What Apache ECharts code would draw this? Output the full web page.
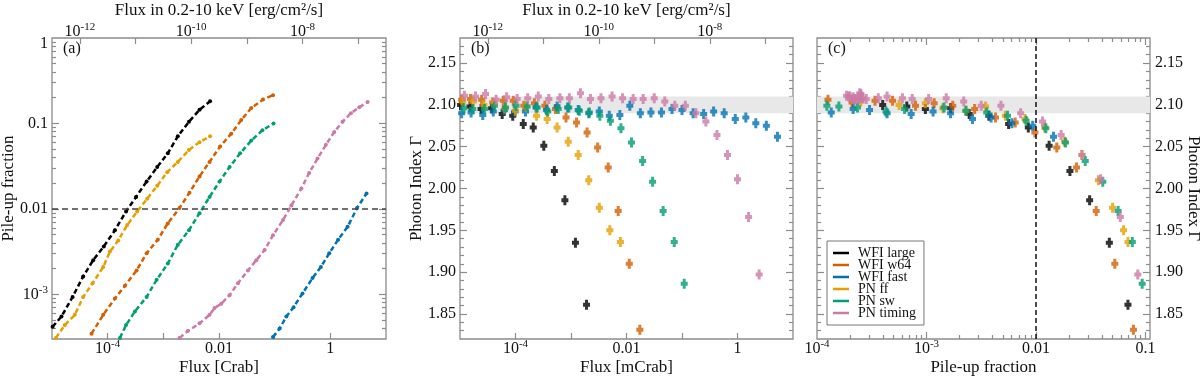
<!DOCTYPE html>
<html>
<head>
<meta charset="utf-8">
<script src="https://cdn.jsdelivr.net/npm/echarts@6/dist/echarts.min.js"></script>
<style>
  html, body { margin: 0; padding: 0; background: #fff; }
  #main { width: 1200px; height: 376px; }
</style>
</head>
<body>
<div id="main"></div>
<script>
// all fluxes and pile-up fractions are given as log10 values
const names = ['WFI large', 'WFI w64', 'WFI fast', 'PN ff', 'PN sw', 'PN timing']
const colors = ['#000000', '#D55E00', '#0072B2', '#E69F00', '#009E73', '#CC79A7']

// panel (a): pile-up fraction vs flux [Crab]
const largeFluxA = [-4.99, -4.83, -4.63, -4.44, -4.26, -4.07, -3.87, -3.67, -3.49, -3.30, -3.11, -2.92, -2.74, -2.54, -2.35, -2.16]
const largePileA = [-3.38, -3.26, -3.03, -2.79, -2.60, -2.44, -2.25, -2.03, -1.86, -1.68, -1.51, -1.35, -1.15, -0.98, -0.84, -0.74]
const w64FluxA = [-4.29, -4.08, -3.87, -3.69, -3.48, -3.30, -3.10, -2.92, -2.71, -2.53, -2.35, -2.17, -1.98, -1.78, -1.60, -1.42, -1.21, -1.03]
const w64PileA = [-3.46, -3.24, -3.05, -2.90, -2.72, -2.52, -2.36, -2.17, -1.99, -1.81, -1.62, -1.45, -1.27, -1.12, -0.96, -0.82, -0.72, -0.67]
const fastFluxA = [-1.03, -0.91, -0.79, -0.66, -0.50, -0.32, -0.17, -0.02, 0.14, 0.31, 0.48, 0.65]
const fastPileA = [-3.50, -3.40, -3.26, -3.15, -2.99, -2.81, -2.68, -2.52, -2.36, -2.21, -1.99, -1.82]
const ffFluxA = [-4.93, -4.77, -4.59, -4.44, -4.27, -4.08, -3.96, -3.81, -3.65, -3.47, -3.29, -3.11, -2.93, -2.74, -2.54, -2.35, -2.16]
const ffPileA = [-3.51, -3.36, -3.24, -3.03, -2.87, -2.68, -2.50, -2.37, -2.19, -2.03, -1.88, -1.73, -1.57, -1.45, -1.31, -1.22, -1.15]
const swFluxA = [-3.78, -3.67, -3.51, -3.30, -3.12, -2.92, -2.74, -2.54, -2.35, -2.17, -1.99, -1.81, -1.62, -1.42, -1.22, -1.02]
const swPileA = [-3.51, -3.36, -3.20, -3.03, -2.83, -2.64, -2.42, -2.25, -2.05, -1.86, -1.68, -1.51, -1.35, -1.20, -1.08, -1.00]
const timingFluxA = [-2.71, -2.56, -2.35, -2.17, -2.08, -1.96, -1.81, -1.66, -1.48, -1.33, -1.18, -1.03, -0.85, -0.70, -0.52, -0.38, -0.23, -0.08, 0.07, 0.22, 0.37, 0.52, 0.67]
const timingPileA = [-3.51, -3.43, -3.34, -3.24, -3.16, -3.11, -3.01, -2.87, -2.72, -2.60, -2.48, -2.31, -2.13, -1.96, -1.76, -1.58, -1.41, -1.25, -1.10, -0.98, -0.88, -0.81, -0.75]

// panel (b): photon index vs flux
const largeFluxB = [-4.99, -4.82, -4.62, -4.43, -4.24, -4.05, -3.86, -3.68, -3.49, -3.30, -3.11, -2.92, -2.72]
const largeGamma = [2.100, 2.098, 2.095, 2.096, 2.089, 2.087, 2.077, 2.073, 2.051, 2.021, 1.986, 1.935, 1.861]
const w64FluxB = [-4.97, -4.81, -4.61, -4.41, -4.22, -4.04, -3.85, -3.66, -3.47, -3.28, -3.09, -2.90, -2.71, -2.52, -2.33, -2.15, -1.95, -1.76]
const w64Gamma = [2.106, 2.107, 2.106, 2.103, 2.105, 2.105, 2.099, 2.102, 2.099, 2.095, 2.085, 2.079, 2.067, 2.049, 2.025, 1.973, 1.910, 1.831]
const fastFluxB = [-4.97, -4.80, -4.59, -4.40, -4.20, -4.01, -3.82, -3.63, -3.44, -3.25, -3.06, -2.87, -2.68, -2.49, -2.31, -2.12, -1.94, -1.75, -1.56, -1.37, -1.18, -1.00, -0.80, -0.61, -0.43, -0.24, -0.04, 0.15, 0.33, 0.52, 0.72]
const fastGamma = [2.090, 2.091, 2.088, 2.092, 2.094, 2.092, 2.092, 2.097, 2.094, 2.098, 2.097, 2.094, 2.090, 2.092, 2.087, 2.088, 2.099, 2.090, 2.091, 2.091, 2.095, 2.094, 2.090, 2.089, 2.092, 2.090, 2.083, 2.085, 2.078, 2.075, 2.062]
const ffFluxB = [-4.95, -4.76, -4.57, -4.38, -4.19, -4.00, -3.81, -3.62, -3.43, -3.25, -3.05, -2.87, -2.68, -2.49, -2.30, -2.11]
const ffGamma = [2.104, 2.104, 2.100, 2.102, 2.096, 2.093, 2.098, 2.087, 2.083, 2.073, 2.056, 2.040, 2.010, 1.977, 1.950, 1.936]
const swFluxB = [-4.93, -4.77, -4.56, -4.38, -4.18, -3.99, -3.79, -3.61, -3.42, -3.23, -3.04, -2.85, -2.67, -2.48, -2.29, -2.10, -1.91, -1.71, -1.53, -1.34, -1.14, -0.96]
const swGamma = [2.096, 2.095, 2.095, 2.099, 2.097, 2.099, 2.098, 2.097, 2.092, 2.095, 2.097, 2.093, 2.091, 2.087, 2.081, 2.072, 2.055, 2.033, 2.008, 1.973, 1.936, 1.886]
const timingFluxB = [-4.92, -4.72, -4.54, -4.35, -4.16, -3.97, -3.78, -3.59, -3.40, -3.20, -3.03, -2.83, -2.65, -2.46, -2.26, -2.07, -1.88, -1.70, -1.50, -1.31, -1.13, -0.94, -0.75, -0.57, -0.37, -0.18, 0.00, 0.20, 0.39]
const timingGamma = [2.111, 2.110, 2.113, 2.106, 2.109, 2.107, 2.108, 2.110, 2.107, 2.108, 2.108, 2.114, 2.107, 2.108, 2.110, 2.108, 2.107, 2.107, 2.108, 2.104, 2.099, 2.099, 2.090, 2.080, 2.064, 2.040, 2.011, 1.966, 1.897]

// panel (c): photon index vs pile-up fraction (null = below 1e-4, not shown)
const largePileC = [-3.40, -3.18, -3.01, -2.78, -2.61, -2.43, -2.25, -2.07, -1.88, -1.69, -1.51, -1.33, -1.16]
const w64PileC = [null, null, -3.90, -3.68, -3.47, -3.31, -3.10, -2.93, -2.76, -2.56, -2.37, -2.19, -2.01, -1.81, -1.63, -1.45, -1.28, -1.11]
const fastPileC = [null, null, null, null, null, null, null, null, null, null, null, null, null, null, null, null, null, null, null, -3.87, -3.67, -3.52, -3.36, -3.14, -2.94, -2.78, -2.58, -2.41, -2.22, -2.03, -1.84]
const ffPileC = [null, -3.60, -3.25, -3.01, -2.85, -2.64, -2.46, -2.28, -2.10, -1.92, -1.74, -1.58, -1.43, -1.30, -1.20, -1.16]
const swPileC = [null, null, null, null, null, -3.91, -3.80, -3.63, -3.37, -3.20, -2.84, -2.64, -2.45, -2.26, -2.09, -1.91, -1.73, -1.55, -1.39, -1.25, -1.12, -1.03]
const timingPileC = [-3.73, -3.71, -3.60, -3.66, -3.67, -3.66, -3.60, -3.70, -3.64, -3.62, -3.58, -3.61, -3.55, -3.44, -3.36, -3.22, -3.13, -2.98, -2.82, -2.66, -2.50, -2.32, -2.14, -1.94, -1.77, -1.58, -1.41, -1.23, -1.07]

const panelA = [[largeFluxA, largePileA], [w64FluxA, w64PileA], [fastFluxA, fastPileA], [ffFluxA, ffPileA], [swFluxA, swPileA], [timingFluxA, timingPileA]]
const panelB = [[largeFluxB, largeGamma], [w64FluxB, w64Gamma], [fastFluxB, fastGamma], [ffFluxB, ffGamma], [swFluxB, swGamma], [timingFluxB, timingGamma]]
const panelC = [[largePileC, largeGamma], [w64PileC, w64Gamma], [fastPileC, fastGamma], [ffPileC, ffGamma], [swPileC, swGamma], [timingPileC, timingGamma]]

const FONT = 'Liberation Serif'
const TXT = '#111'
const FRAME = '#8c8c8c'
const GAMMA_MIN = 1.82
const GAMMA_MAX = 2.18
const PILE_MIN = Math.log10(3e-4)
const FRAC_MAX = Math.log10(0.11)

const rich = {
  b: { fontFamily: FONT, fontSize: 16, lineHeight: 19, color: TXT },
  s: { fontFamily: FONT, fontSize: 11, lineHeight: 11, padding: [0, 0, 8, 0], color: TXT },
  // label sitting at the top corner, pushed a little down
  d: { fontFamily: FONT, fontSize: 16, lineHeight: 19, padding: [12, 0, 0, 0], color: TXT }
}
const nameStyle = { fontFamily: FONT, fontSize: 17, color: TXT }

function powLabel (v) {
  const e = Math.round(v)
  if (e === 0) return '{b|1}'
  if (e === -1) return '{b|0.1}'
  if (e === -2) return '{b|0.01}'
  return '{b|10}{s|' + e + '}'
}
function pileLabel (v) {
  return Math.round(v) === 0 ? '{d|1}' : powLabel(v)
}
function gammaLabel (v) {
  return '{b|' + v.toFixed(2) + '}'
}
function pairs (xs, ys) {
  return xs.map((x, i) => x === null ? null : [x, ys[i]]).filter(p => p !== null)
}
function logMinor (lo, hi) {
  let out = []
  for (let e = Math.floor(lo); e < hi; e++) {
    for (let k = 2; k <= 9; k++) {
      let v = e + Math.log10(k)
      if (v > lo && v < hi) out.push(v)
    }
  }
  return out
}
function steps (lo, hi, step) {
  let out = []
  for (let v = lo; v <= hi + 1e-9; v += step) out.push(Math.round(v * 1000) / 1000)
  return out
}
const gammaMajor = steps(1.85, 2.15, 0.05)
const gammaMinor = steps(1.83, 2.17, 0.01).filter(v => gammaMajor.indexOf(v) < 0)

// one axis: ticks inside, optional labels and name
function axis (grid, pos, min, max, ticks, len, extra) {
  return Object.assign({
    type: 'value', gridIndex: grid, position: pos, min: min, max: max,
    axisLine: { show: false, onZero: false },
    splitLine: { show: false },
    axisTick: { show: true, inside: true, length: len, customValues: ticks, lineStyle: { color: FRAME, width: 1.2 } },
    axisLabel: { show: false }
  }, extra || {})
}
function labels (values, fmt, margin) {
  return { axisLabel: { show: true, customValues: values, formatter: fmt, rich: rich, margin: margin } }
}
function axName (text, gap, rotate) {
  let o = { name: text, nameLocation: 'middle', nameGap: gap, nameMoveOverlap: false, nameTextStyle: nameStyle }
  if (rotate !== undefined) o.nameRotate = rotate
  return o
}

const topName = 'Flux in 0.2-10 keV [erg/cm²/s]'
const xAxis = [
  axis(0, 'bottom', -5, 1, [-4, -3, -2, -1, 0], 6, Object.assign(labels([-4, -2, 0], powLabel, 0), axName('Flux [Crab]', 20))),
  axis(0, 'top', -12.5, -6.5, [-12, -11, -10, -9, -8, -7], 6, Object.assign(labels([-12, -10, -8], powLabel, -3), axName(topName, 19))),
  axis(1, 'bottom', -5, 1, [-4, -3, -2, -1, 0], 6, Object.assign(labels([-4, -2, 0], powLabel, 0), axName('Flux [mCrab]', 20))),
  axis(1, 'top', -12.5, -6.5, [-12, -11, -10, -9, -8, -7], 6, Object.assign(labels([-12, -10, -8], powLabel, -3), axName(topName, 19))),
  axis(2, 'bottom', -4, FRAC_MAX, [-3, -2, -1], 7, Object.assign(labels([-4, -3, -2, -1], powLabel, 0), axName('Pile-up fraction', 20))),
  axis(2, 'bottom', -4, FRAC_MAX, logMinor(-4, FRAC_MAX), 4),
  axis(2, 'top', -4, FRAC_MAX, [-3, -2, -1], 7),
  axis(2, 'top', -4, FRAC_MAX, logMinor(-4, FRAC_MAX), 4)
]

const yAxis = [
  axis(0, 'left', PILE_MIN, 0, [-3, -2, -1], 7, Object.assign(labels([-3, -2, -1, 0], pileLabel, 4), axName('Pile-up fraction', 35))),
  axis(0, 'left', PILE_MIN, 0, logMinor(PILE_MIN, 0), 4),
  axis(0, 'right', PILE_MIN, 0, [-3, -2, -1], 7),
  axis(0, 'right', PILE_MIN, 0, logMinor(PILE_MIN, 0), 4),
  axis(1, 'left', GAMMA_MIN, GAMMA_MAX, gammaMajor, 7, Object.assign(labels(gammaMajor, gammaLabel, 4), axName('Photon Index Γ', 35))),
  axis(1, 'left', GAMMA_MIN, GAMMA_MAX, gammaMinor, 4),
  axis(1, 'right', GAMMA_MIN, GAMMA_MAX, gammaMajor, 7),
  axis(1, 'right', GAMMA_MIN, GAMMA_MAX, gammaMinor, 4),
  axis(2, 'left', GAMMA_MIN, GAMMA_MAX, gammaMajor, 7),
  axis(2, 'left', GAMMA_MIN, GAMMA_MAX, gammaMinor, 4),
  axis(2, 'right', GAMMA_MIN, GAMMA_MAX, gammaMajor, 7, Object.assign(labels(gammaMajor, gammaLabel, 5), axName('Photon Index Γ', 35, -90))),
  axis(2, 'right', GAMMA_MIN, GAMMA_MAX, gammaMinor, 4)
]

const crossSymbol = 'path://M2,0H5V3H7V7H5V10H2V7H0V3H2Z'
const band = {
  silent: true,
  itemStyle: { color: '#e8e8e8' },
  data: [[{ yAxis: 2.09 }, { yAxis: 2.11 }]]
}

let series = []
panelA.forEach((d, i) => {
  series.push({
    type: 'line', name: names[i], xAxisIndex: 0, yAxisIndex: 0,
    data: pairs(d[0], d[1]),
    color: colors[i],
    symbol: 'circle', symbolSize: 4, showSymbol: true,
    lineStyle: { width: 2.5, type: [5, 3] },
    z: 3,
    markLine: i === 0 ? {
      silent: true, symbol: 'none', label: { show: false },
      lineStyle: { color: '#444', width: 1.5, type: [6, 4] },
      data: [{ yAxis: -2 }]
    } : undefined
  })
})
panelB.forEach((d, i) => {
  series.push({
    type: 'scatter', name: names[i], xAxisIndex: 2, yAxisIndex: 4,
    data: pairs(d[0], d[1]),
    color: colors[i],
    symbol: crossSymbol, symbolSize: [7, 10],
    z: 3,
    markArea: i === 0 ? band : undefined
  })
})
panelC.forEach((d, i) => {
  series.push({
    type: 'scatter', name: names[i], xAxisIndex: 4, yAxisIndex: 10,
    data: pairs(d[0], d[1]),
    color: colors[i],
    symbol: crossSymbol, symbolSize: [7, 10],
    z: 3,
    markArea: i === 0 ? band : undefined,
    markLine: i === 0 ? {
      silent: true, symbol: 'none', label: { show: false },
      lineStyle: { color: '#111', width: 1.5, type: [5, 3] },
      data: [{ xAxis: -2 }]
    } : undefined
  })
})

function panelLetter (text, x) {
  return { type: 'text', left: x, top: 41, style: { text: text, font: '16px "Liberation Serif"', fill: TXT } }
}
function grid (left, width) {
  return {
    left: left, top: 38, width: width, height: 301,
    containLabel: false, outerBoundsMode: 'none',
    show: true, borderColor: FRAME, borderWidth: 1.3
  }
}

const option = {
  animation: false,
  backgroundColor: '#fff',
  grid: [grid(52, 334), grid(460, 333), grid(817, 333)],
  legend: {
    data: names,
    orient: 'vertical',
    left: 827, top: 241,
    icon: 'rect', itemWidth: 16, itemHeight: 2.5, itemGap: -2,
    padding: [5, 8, 5, 6],
    borderColor: '#777', borderWidth: 1,
    backgroundColor: '#fff',
    textStyle: { fontFamily: FONT, fontSize: 14, lineHeight: 12, color: TXT, padding: [0, 0, 0, 4] }
  },
  graphic: [panelLetter('(a)', 63), panelLetter('(b)', 471), panelLetter('(c)', 828)],
  xAxis: xAxis,
  yAxis: yAxis,
  series: series
}

let chart = echarts.init(document.getElementById('main'))
chart.setOption(option)
</script>
</body>
</html>
